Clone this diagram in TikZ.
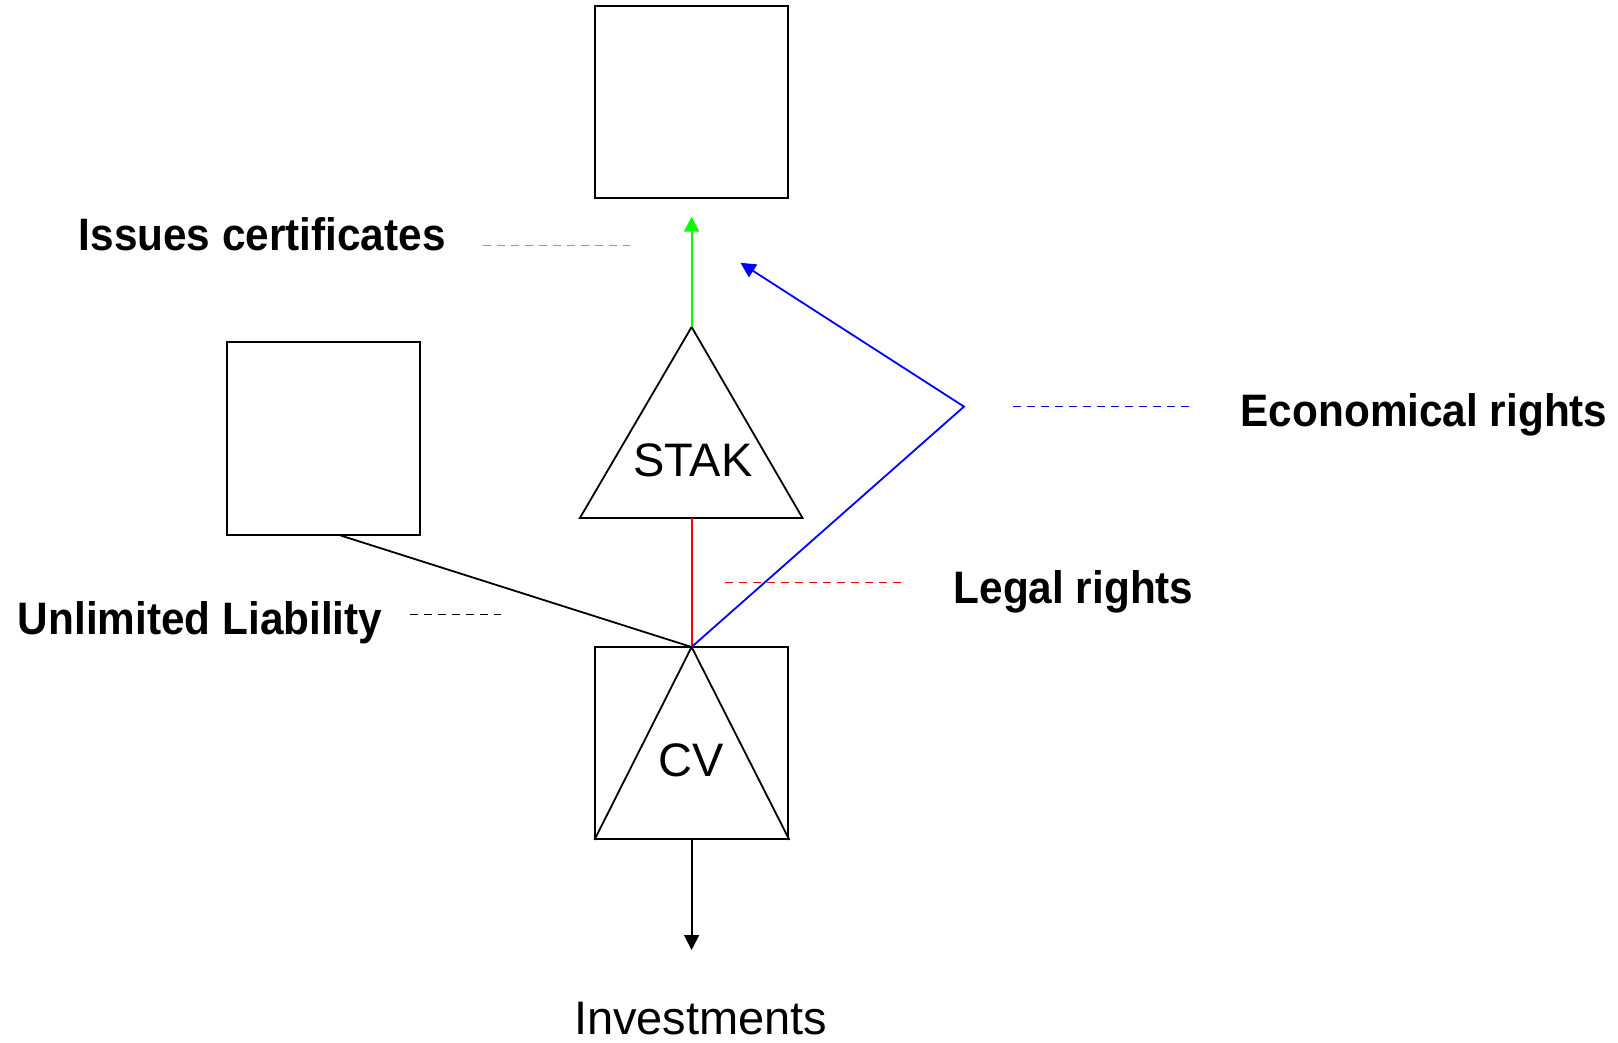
\documentclass[tikz,border=0pt]{standalone}
\usepackage{fontspec}
\setmainfont{Liberation Sans}
\newfontfamily\lblfont[FakeStretch=0.93]{Liberation Sans}
\usetikzlibrary{arrows.meta,calc}
\definecolor{pgreen}{RGB}{0,255,0}
\definecolor{pblue}{RGB}{0,0,255}
\definecolor{pred}{RGB}{255,0,0}
\begin{document}
\begin{tikzpicture}[x=0.5pt,y=-0.5pt,
  box/.style={draw=black,line width=1pt,rectangle,minimum width=96.5pt,minimum height=96pt,inner sep=0pt},
  solidline/.style={line width=0.9pt},
  dashline/.style={line width=0.9pt,dash pattern=on 4pt off 3pt},
  tip/.style={-{Triangle[width=7.5pt,length=7.5pt]}},
  lbl/.style={font=\lblfont\bfseries\fontsize{22.75pt}{26pt}\selectfont,inner sep=0pt,anchor=base west},
  txt/.style={font=\fontsize{23.5pt}{27pt}\selectfont,inner sep=0pt,anchor=base}]
\path[use as bounding box] (0,0) rectangle (1618,1043);
% boxes
\node[box] (topbox) at (691.9,102.1) {};
\node[box] (lbox) at (323.5,438.5) {};
\node[box] (cv) at (691.9,743) {};
% STAK triangle
\coordinate (stakapex) at (691.6,327);
\coordinate (stakbl) at (579.9,518);
\coordinate (stakbr) at (802.5,518);
\coordinate (stakbase) at (691.6,518);
\draw[solidline,line join=miter] (stakapex) -- (stakbl) -- (stakbr) -- cycle;
\node[txt] (staktext) at (692.9,476.7) {STAK};
% CV triangle
\coordinate (cvapex) at (691.6,647);
\draw[solidline] (cv.south west) -- (cvapex) -- (cv.south east);
\node[txt] (cvtext) at (691.6,776.5) {CV};
% connectors
\coordinate (gtip) at (691.6,216.7);
\draw[solidline,pgreen,tip] (stakapex) -- (gtip);
\draw[solidline,pred] (stakbase) -- (cvapex);
\coordinate (lboxpt) at ($(lbox.south west)!0.588!(lbox.south east)$);
\draw[solidline] (lboxpt) -- (cvapex);
\coordinate (bluebend) at (964,406.6);
\coordinate (bluetip) at (740.5,262.8);
\draw[solidline,pblue,tip,line join=miter] (cvapex) -- (bluebend) -- (bluetip);
\coordinate (cvbot) at (691.6,839);
\coordinate (invtip) at (691.6,950);
\draw[solidline,tip] (cvbot) -- (invtip);
\node[txt] (inv) at (700.8,1034) {Investments};
% legend dashes
\coordinate (gd1) at (483,245.6); \coordinate (gd2) at (629.5,245.6);
\draw[dashline,pgreen] (gd1) -- (gd2);
\coordinate (kd1) at (409.5,614.5); \coordinate (kd2) at (500.5,614.5);
\draw[dashline] (kd1) -- (kd2);
\coordinate (rd1) at (725.4,582.5); \coordinate (rd2) at (901,582.5);
\draw[dashline,pred] (rd1) -- (rd2);
\coordinate (bd1) at (1013.3,406.6); \coordinate (bd2) at (1188.7,406.6);
\draw[dashline,pblue] (bd1) -- (bd2);
% labels
\node[lbl] (issues) at (78.4,251) {Issues certificates};
\node[lbl] (unlim) at (17.5,634.5) {Unlimited Liability};
\node[lbl] (legal) at (953.3,603.3) {Legal rights};
\node[lbl] (econ) at (1240.3,426) {Economical rights};
\end{tikzpicture}
\end{document}
